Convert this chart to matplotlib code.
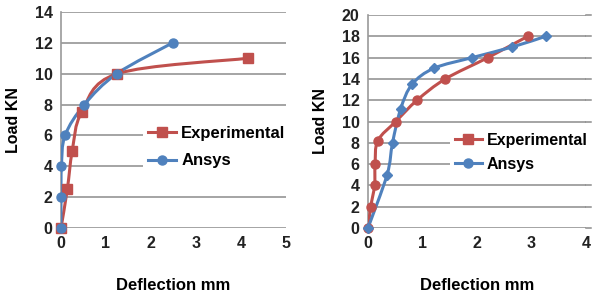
import numpy as np
import matplotlib
matplotlib.use("Agg")
import matplotlib.pyplot as plt
from matplotlib.path import Path
from matplotlib.patches import PathPatch
from matplotlib.lines import Line2D

plt.rcParams["font.family"] = ["Liberation Sans", "DejaVu Sans"]

# left chart
exp1_x = [0, 0.14, 0.25, 0.46, 1.25, 4.15]
exp1_y = [0, 2.5, 5, 7.5, 10, 11]
ans1_x = [0, 0, 0.01, 0.09, 0.52, 1.24, 2.48]
ans1_y = [0, 2, 4, 6, 8, 10, 12]

# right chart
exp2_x = [0, 0.05, 0.12, 0.13, 0.18, 0.51, 0.90, 1.42, 2.20, 2.93]
exp2_y = [0, 2, 4, 6, 8.2, 10, 12, 14, 16, 18]
ans2_x = [0, 0.35, 0.45, 0.60, 0.81, 1.21, 1.91, 2.65, 3.26]
ans2_y = [0, 5, 8, 11.2, 13.5, 15, 16, 17, 18]

RED = "#C0504D"
BLUE = "#4F81BD"
W, H = 593, 294


def smooth(ax, xs, ys, color, sx, sy):
    # Excel-like smoothed line (cardinal spline drawn as bezier)
    p = np.column_stack([np.array(xs) * sx, np.array(ys) * sy])
    verts = [p[0]]
    codes = [Path.MOVETO]
    n = len(p)
    for i in range(n - 1):
        p0 = p[max(i - 1, 0)]
        p1 = p[i]
        p2 = p[i + 1]
        p3 = p[min(i + 2, n - 1)]
        c1 = p1 + (p2 - p0) / 6
        c2 = p2 - (p3 - p1) / 6
        verts += [c1, c2, p2]
        codes += [Path.CURVE4] * 3
    verts = np.array(verts) / [sx, sy]
    ax.add_patch(PathPatch(Path(verts, codes), fill=False, edgecolor=color,
                           lw=2.2, zorder=3, capstyle="round", joinstyle="round"))


fig = plt.figure(figsize=(W / 100, H / 100), dpi=100)


def setup(ax, xmax, ymax, ystep):
    ax.set_xlim(0, xmax)
    ax.set_ylim(0, ymax)
    ax.set_xticks(range(0, xmax + 1))
    ax.set_yticks(range(0, ymax + 1, ystep))
    for s in ["top", "right", "bottom"]:
        ax.spines[s].set_visible(False)
    ax.spines["left"].set_color("#999999")
    ax.spines["left"].set_linewidth(1.2)
    ax.grid(axis="y", color="#8c8c8c", lw=1.1)
    ax.set_axisbelow(True)
    ax.tick_params(length=0, labelsize=11.5, pad=6)
    for lab in ax.get_xticklabels() + ax.get_yticklabels():
        lab.set_fontweight("bold")
        lab.set_color("#222222")
    ax.set_ylabel("Load KN", fontsize=11.5, fontweight="bold")
    ax.set_xlabel("Deflection mm", fontsize=12, fontweight="bold", labelpad=19)


# left axes
l1, b1, r1, t1 = 61, 228, 286, 12
ax1 = fig.add_axes([l1 / W, 1 - b1 / H, (r1 - l1) / W, (b1 - t1) / H])
setup(ax1, 5, 14, 2)
ax1.yaxis.labelpad = 10
sx1, sy1 = (r1 - l1) / 5, (b1 - t1) / 14
smooth(ax1, exp1_x, exp1_y, RED, sx1, sy1)
smooth(ax1, ans1_x, ans1_y, BLUE, sx1, sy1)
ax1.plot(exp1_x, exp1_y, ls="none", marker="s", ms=6.5, color=RED, zorder=4, clip_on=False)
ax1.plot(ans1_x, ans1_y, ls="none", marker="o", ms=6.5, color=BLUE, zorder=5, clip_on=False)

# right axes
l2, b2, r2, t2 = 368, 228, 586, 15
ax2 = fig.add_axes([l2 / W, 1 - b2 / H, (r2 - l2) / W, (b2 - t2) / H])
setup(ax2, 4, 20, 2)
ax2.yaxis.labelpad = 10
sx2, sy2 = (r2 - l2) / 4, (b2 - t2) / 20
smooth(ax2, exp2_x, exp2_y, RED, sx2, sy2)
smooth(ax2, ans2_x, ans2_y, BLUE, sx2, sy2)
ax2.plot(exp2_x, exp2_y, ls="none", marker="o", ms=6.5, color=RED, zorder=4, clip_on=False)
ax2.plot(ans2_x, ans2_y, ls="none", marker="D", ms=5.5, color=BLUE, zorder=5, clip_on=False)
# gridlines run a little past the last tick
for y in range(0, 21, 2):
    ax2.plot([4, 4.1], [y, y], color="#8c8c8c", lw=1.1, clip_on=False, zorder=0.5)

handles = [Line2D([], [], color=RED, marker="s", ms=6.5, lw=2.2),
           Line2D([], [], color=BLUE, marker="o", ms=6.5, lw=2.2)]
for ax, x0, y0, sp, fs in [(ax1, 143, 121, 0.75, 12), (ax2, 450, 128, 0.55, 11.5)]:
    leg = ax.legend(handles, ["Experimental", "Ansys"], loc="upper left",
                    bbox_to_anchor=(x0 / W, 1 - y0 / H), bbox_transform=fig.transFigure,
                    frameon=True, fancybox=False, edgecolor="none", framealpha=1,
                    handlelength=1.7, handletextpad=0.3, labelspacing=sp,
                    borderpad=0.3, borderaxespad=0,
                    prop={"weight": "bold", "size": fs})
    leg.set_zorder(6)

fig.savefig("out.png", dpi=100)
